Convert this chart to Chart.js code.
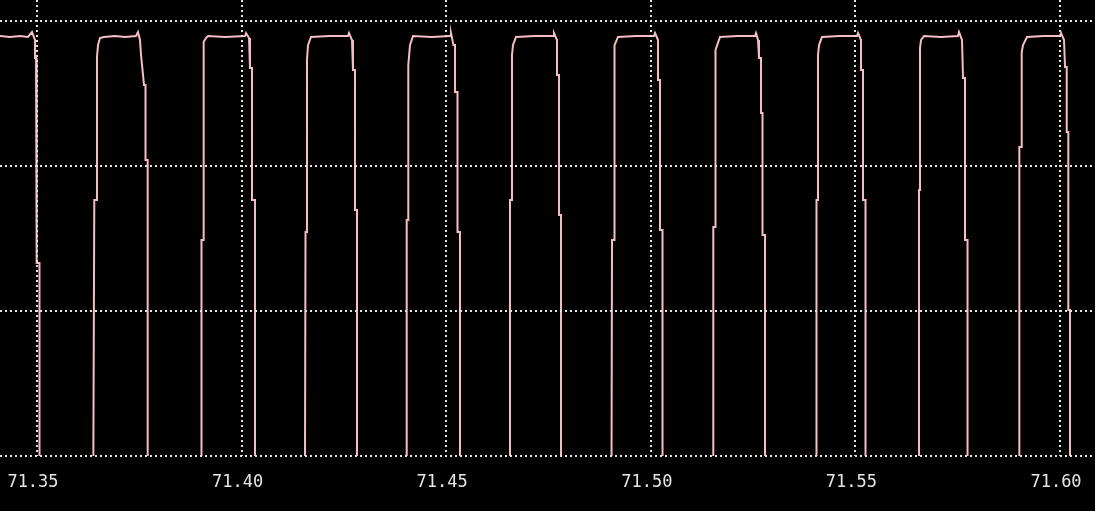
<!DOCTYPE html>
<html>
<head>
<meta charset="utf-8">
<script src="https://cdn.jsdelivr.net/npm/chart.js@4"></script>
<style>
  html, body { margin: 0; padding: 0; background: #000; }
  #wrap { width: 1095px; height: 511px; }
</style>
</head>
<body>
<div id="wrap"><canvas id="scope" width="1095" height="511"></canvas></div>
<script>
const traceTime = [
  // pulse 0 (already high at the left edge)
  71.34096, 71.34340, 71.34585, 71.34780, 71.34878, 71.34951, 71.34951, 71.34976, 71.34976, 71.35000, 71.35000, 71.35061, 71.35061,
  // pulse 1
  71.36376, 71.36400, 71.36466, 71.36466, 71.36491, 71.36540, 71.36637, 71.36906, 71.37151, 71.37419, 71.37468, 71.37517, 71.37542, 71.37615, 71.37652, 71.37652, 71.37705, 71.37705,
  // pulse 2
  71.39008, 71.39020, 71.39057, 71.39057, 71.39081, 71.39081, 71.39130, 71.39179, 71.39594, 71.40083, 71.40108, 71.40181, 71.40205, 71.40254, 71.40254, 71.40327, 71.40327,
  // pulse 3
  71.41549, 71.41562, 71.41598, 71.41598, 71.41623, 71.41696, 71.42150, 71.42600, 71.42625, 71.42698, 71.42722, 71.42771, 71.42771, 71.42820, 71.42820,
  // pulse 4
  71.44035, 71.44035, 71.44074, 71.44074, 71.44115, 71.44189, 71.44640, 71.45093, 71.45117, 71.45178, 71.45215, 71.45215, 71.45276, 71.45276, 71.45337, 71.45337,
  // pulse 5
  71.46547, 71.46559, 71.46608, 71.46608, 71.46633, 71.46706, 71.47160, 71.47610, 71.47634, 71.47708, 71.47708, 71.47757, 71.47757, 71.47806, 71.47806,
  // pulse 6
  71.49040, 71.49052, 71.49101, 71.49101, 71.49125, 71.49199, 71.49640, 71.50078, 71.50103, 71.50176, 71.50176, 71.50225, 71.50225, 71.50286, 71.50286,
  // pulse 7
  71.51527, 71.51527, 71.51569, 71.51569, 71.51593, 71.51691, 71.52120, 71.52547, 71.52571, 71.52620, 71.52644, 71.52693, 71.52693, 71.52730, 71.52730, 71.52791, 71.52791,
  // pulse 8
  71.54037, 71.54049, 71.54086, 71.54086, 71.54111, 71.54184, 71.54610, 71.55039, 71.55064, 71.55137, 71.55137, 71.55186, 71.55186, 71.55247, 71.55247,
  // pulse 9
  71.56542, 71.56554, 71.56579, 71.56579, 71.56603, 71.56677, 71.57090, 71.57507, 71.57532, 71.57605, 71.57630, 71.57678, 71.57678, 71.57740, 71.57740,
  // pulse 10
  71.59006, 71.59006, 71.59064, 71.59064, 71.59096, 71.59194, 71.59600, 71.60000, 71.60025, 71.60098, 71.60122, 71.60164, 71.60164, 71.60203, 71.60203, 71.60244, 71.60244, 71.60855
];
// the low level sits just below the visible window, so only the edges show
const traceLevel = [
  2.897, 2.890, 2.897, 2.890, 2.924, 2.869, 2.745, 2.745, 2.407, 2.407, 1.331, 1.331, -0.1,
  -0.1, 1.766, 1.766, 2.752, 2.834, 2.883, 2.890, 2.897, 2.890, 2.897, 2.924, 2.869, 2.766, 2.559, 2.559, 2.041, 2.041, -0.1,
  -0.1, 1.490, 1.490, 2.593, 2.593, 2.855, 2.883, 2.897, 2.890, 2.897, 2.917, 2.883, 2.676, 2.676, 1.766, 1.766, -0.1,
  -0.1, 1.545, 1.545, 2.731, 2.834, 2.890, 2.897, 2.897, 2.917, 2.869, 2.662, 2.662, 1.697, 1.697, -0.1,
  -0.1, 1.628, 1.628, 2.697, 2.834, 2.897, 2.890, 2.897, 2.917, 2.834, 2.834, 2.510, 2.510, 1.545, 1.545, -0.1,
  -0.1, 1.766, 1.766, 2.766, 2.834, 2.890, 2.897, 2.897, 2.917, 2.869, 2.628, 2.628, 1.662, 1.662, -0.1,
  -0.1, 1.490, 1.490, 2.766, 2.834, 2.890, 2.897, 2.897, 2.917, 2.869, 2.593, 2.593, 1.559, 1.559, -0.1,
  -0.1, 1.579, 1.579, 2.745, 2.800, 2.890, 2.897, 2.897, 2.917, 2.869, 2.745, 2.745, 2.366, 2.366, 1.524, 1.524, -0.1,
  -0.1, 1.766, 1.766, 2.766, 2.834, 2.890, 2.897, 2.897, 2.917, 2.869, 2.662, 2.662, 1.766, 1.766, -0.1,
  -0.1, 1.834, 1.834, 2.814, 2.869, 2.897, 2.890, 2.897, 2.924, 2.869, 2.607, 2.607, 1.490, 1.490, -0.1,
  -0.1, 2.131, 2.131, 2.786, 2.834, 2.890, 2.897, 2.897, 2.917, 2.869, 2.683, 2.683, 2.234, 2.234, 1.007, 1.007, -0.1, -0.1
];

const xTicks = [71.35, 71.40, 71.45, 71.50, 71.55, 71.60];
const yGrid = [0, 1, 2, 3];
const xMin = 71.34096, xMax = 71.60855;
const yMin = 0, yMax = 3.145;

const gridColor = "#e4e4e4";
const tracePink = "#f7bcc6";

new Chart(document.getElementById("scope"), {
  type: "line",
  data: {
    datasets: [{
      data: traceTime.map((t, i) => ({ x: t, y: traceLevel[i] })),
      borderColor: tracePink,
      borderWidth: 2,
      pointRadius: 0,
      tension: 0,
      fill: false
    }]
  },
  options: {
    responsive: false,
    animation: false,
    layout: { padding: 0 },
    plugins: { legend: { display: false }, tooltip: { enabled: false } },
    scales: {
      x: {
        type: "linear",
        min: xMin,
        max: xMax,
        afterBuildTicks: (s) => { s.ticks = xTicks.map((v) => ({ value: v })); },
        // fixed axis band, and no extra side padding for the edge labels
        afterFit: (s) => { s.height = 55; s.paddingLeft = 0; s.paddingRight = 0; },
        ticks: {
          color: "#e6e6e6",
          font: { family: "DejaVu Sans Mono", size: 17 },
          padding: 16,
          labelOffset: -4,
          maxRotation: 0,
          autoSkip: false,
          callback: (v) => Number(v).toFixed(2)
        },
        grid: { color: gridColor, lineWidth: 2, drawTicks: false, z: 1 },
        border: { display: false, dash: [2, 3] }
      },
      y: {
        min: yMin,
        max: yMax,
        afterBuildTicks: (s) => { s.ticks = yGrid.map((v) => ({ value: v })); },
        afterFit: (s) => { s.width = 0; },
        ticks: { display: false },
        grid: { color: gridColor, lineWidth: 2, drawTicks: false, z: 1 },
        border: { display: false, dash: [2, 3] }
      }
    }
  }
});
</script>
</body>
</html>
